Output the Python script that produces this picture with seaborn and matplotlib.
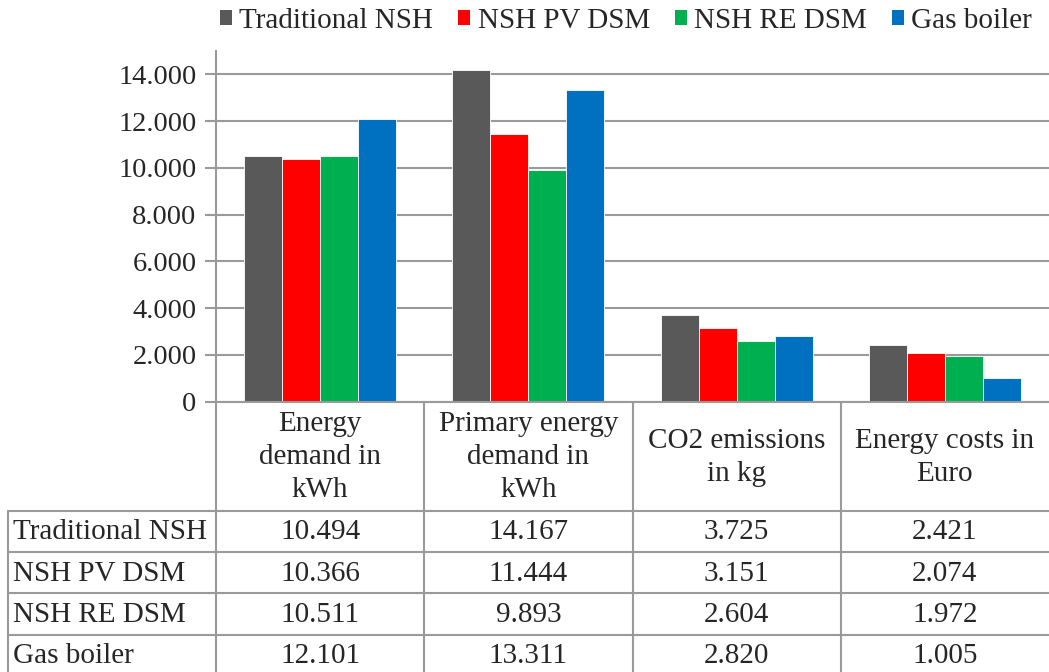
import matplotlib
matplotlib.use("Agg")
import matplotlib.pyplot as plt
from matplotlib.patches import Patch
from matplotlib.ticker import FuncFormatter
import seaborn as sns
import pandas as pd

# Data (values from the data table)
categories = ["Energy demand in kWh", "Primary energy demand in kWh",
              "CO2 emissions in kg", "Energy costs in Euro"]
header_labels = ["Energy\ndemand in\nkWh", "Primary energy\ndemand in\nkWh",
                 "CO2 emissions\nin kg", "Energy costs in\nEuro"]
systems = ["Traditional NSH", "NSH PV DSM", "NSH RE DSM", "Gas boiler"]
traditional_nsh = [10494, 14167, 3725, 2421]
nsh_pv_dsm = [10366, 11444, 3151, 2074]
nsh_re_dsm = [10511, 9893, 2604, 1972]
gas_boiler = [12101, 13311, 2820, 1005]
colors = ["#595959", "#FF0000", "#00B050", "#0070C0"]

series = [traditional_nsh, nsh_pv_dsm, nsh_re_dsm, gas_boiler]
rows = []
for name, vals in zip(systems, series):
    for cat, v in zip(categories, vals):
        rows.append({"Category": cat, "System": name, "Value": v})
df = pd.DataFrame(rows)

sns.set_style("white")
plt.rcParams["font.family"] = ["Liberation Serif", "DejaVu Serif"]
FS = 21
GRAY = "#9a9a9a"
LW = 1.5

W, H = 1049, 672
fig = plt.figure(figsize=(W / 100, H / 100), dpi=100)

ax_left, ax_bottom, ax_top = 216, 401.7, 50.9
ax = fig.add_axes([ax_left / W, 1 - ax_bottom / H, (W - ax_left) / W, (ax_bottom - ax_top) / H])

sns.barplot(data=df, x="Category", y="Value", hue="System", palette=colors,
            order=categories, hue_order=systems, width=0.73, ax=ax,
            edgecolor="white", linewidth=0.6, legend=False, saturation=1)

ax.set_xlim(-0.5, 3.5)
ax.set_ylim(0, 15000)
ax.set_yticks(range(0, 14001, 2000))
ax.yaxis.set_major_formatter(FuncFormatter(lambda v, p: f"{int(v):,}".replace(",", ".")))
ax.set_axisbelow(True)
ax.grid(axis="y", color=GRAY, linewidth=LW)
ax.set_xlabel("")
ax.set_ylabel("")
ax.tick_params(axis="x", length=0, labelbottom=False)
ax.tick_params(axis="y", direction="out", length=8, width=LW, color=GRAY,
               labelsize=FS - 0.5, pad=6, left=True)
for s in ["top", "right"]:
    ax.spines[s].set_visible(False)
for s in ["left", "bottom"]:
    ax.spines[s].set_color(GRAY)
    ax.spines[s].set_linewidth(LW)

# Data table below the chart
tab_h = H - ax_bottom
tax = fig.add_axes([0, 0, 1, tab_h / H])
px_per_unit = (W - ax_left) / 4.0
tax.set_xlim(-0.5 - ax_left / px_per_unit, 3.5)
tax.set_ylim(tab_h, 0)
tax.axis("off")

header_h = 109.0
row_h = 41.3
left_edge = -0.5 - (ax_left - 8) / px_per_unit
right_edge = 3.5

for i in range(len(systems)):
    y = header_h + i * row_h
    tax.plot([left_edge, right_edge], [y, y], color=GRAY, lw=LW, clip_on=False)
tax.plot([left_edge, left_edge], [header_h, tab_h], color=GRAY, lw=LW)
for j in range(len(categories)):
    xb = j - 0.5
    tax.plot([xb, xb], [0, tab_h], color=GRAY, lw=LW)

for j, lab in enumerate(header_labels):
    tax.text(j, header_h / 2 + 1, lab, ha="center", va="center", fontsize=FS,
             linespacing=1.35)

for i, (name, vals) in enumerate(zip(systems, series)):
    yc = header_h + (i + 0.5) * row_h + 1
    tax.text(left_edge + 5 / px_per_unit, yc, name, ha="left", va="center", fontsize=FS)
    for j, v in enumerate(vals):
        tax.text(j, yc, f"{v:,}".replace(",", "."), ha="center", va="center", fontsize=FS)

handles = [Patch(facecolor=c, edgecolor="none", label=n) for c, n in zip(colors, systems)]
fig.legend(handles=handles, loc="center", bbox_to_anchor=(626 / W, 1 - 21 / H), ncol=4,
           frameon=False, fontsize=FS, handlelength=0.42, handleheight=0.42,
           handletextpad=0.25, columnspacing=0.85, borderaxespad=0)

fig.savefig("out.png", dpi=100)
